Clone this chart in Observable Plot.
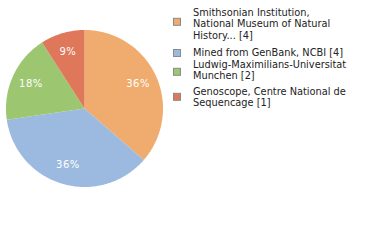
<!DOCTYPE html>
<html>
<head>
<meta charset="utf-8">
<script src="https://cdn.jsdelivr.net/npm/d3@7"></script>
<script src="https://cdn.jsdelivr.net/npm/@observablehq/plot@0.6"></script>
<style>
  html, body { margin: 0; padding: 0; background: #fff; }
  #wrap { position: relative; width: 380px; height: 240px; overflow: hidden; }
  #legend { position: absolute; left: 0; top: 0; }
</style>
</head>
<body>
<div id="wrap"><div id="chart"></div><svg id="legend" width="380" height="240"></svg></div>
<script>
const labels = ["Smithsonian Institution,\nNational Museum of Natural\nHistory... [4]", "Mined from GenBank, NCBI [4]", "Ludwig-Maximilians-Universitat\nMunchen [2]", "Genoscope, Centre National de\nSequencage [1]"];
const keys = ["Smithsonian", "GenBank", "Ludwig", "Genoscope"];
const counts = [4, 4, 2, 1];
const colors = ["#f0ac6e", "#9cbae0", "#9dc671", "#df775b"];

const total = d3.sum(counts);
const arcs = d3.pie().sort(null).value(d => d.count)(keys.map((k, i) => ({key: k, count: counts[i]})));

const poly = [];
const labelPts = [];
arcs.forEach(a => {
  const k = a.data.key;
  poly.push({key: k, x: 0, y: 0});
  const n = Math.max(2, Math.ceil((a.endAngle - a.startAngle) / (Math.PI / 180)));
  for (let j = 0; j <= n; j++) {
    const t = a.startAngle + (a.endAngle - a.startAngle) * j / n;
    poly.push({key: k, x: Math.sin(t), y: Math.cos(t)});
  }
  poly.push({key: k, x: 0, y: 0});
  const m = (a.startAngle + a.endAngle) / 2;
  labelPts.push({key: k, x: 0.75 * Math.sin(m), y: 0.75 * Math.cos(m), text: Math.round(a.data.count / total * 100) + "%"});
});

const plot = Plot.plot({
  width: 380,
  height: 240,
  marginLeft: 5.5,
  marginRight: 217.5,
  marginTop: 29.5,
  marginBottom: 53.5,
  x: {domain: [-1, 1], axis: null},
  y: {domain: [-1, 1], axis: null},
  color: {domain: keys, range: colors},
  style: {fontFamily: "DejaVu Sans, sans-serif", background: "#fff"},
  marks: [
    Plot.line(poly, {x: "x", y: "y", z: "key", fill: "key", stroke: "none"}),
    Plot.text(labelPts, {x: "x", y: "y", text: "text", fill: "white", fontSize: 10, fontWeight: 500})
  ]
});
document.getElementById("chart").appendChild(plot);
plot.querySelectorAll("text").forEach(t => t.setAttribute("letter-spacing", "0.5"));

// legend layout (pixel positions of each entry's first baseline and swatch top)
const legendBaselines = [15.7, 55.5, 68, 95];
const swatchTops = [18.3, 49.5, 68.3, 93.3];
const lineStep = 11.4;
const svg = d3.select("#legend");
labels.forEach((l, i) => {
  svg.append("rect").attr("x", 173.5).attr("y", swatchTops[i]).attr("width", 7).attr("height", 7)
    .attr("fill", colors[i]).attr("stroke", "#8a8a8a").attr("stroke-width", 1);
  const t = svg.append("text").attr("font-family", "DejaVu Sans, sans-serif").attr("font-size", 9.8).attr("fill", "#222");
  l.split("\n").forEach((line, j) => {
    t.append("tspan").attr("x", 193).attr("y", legendBaselines[i] + j * lineStep).text(line);
  });
});
</script>
</body>
</html>
